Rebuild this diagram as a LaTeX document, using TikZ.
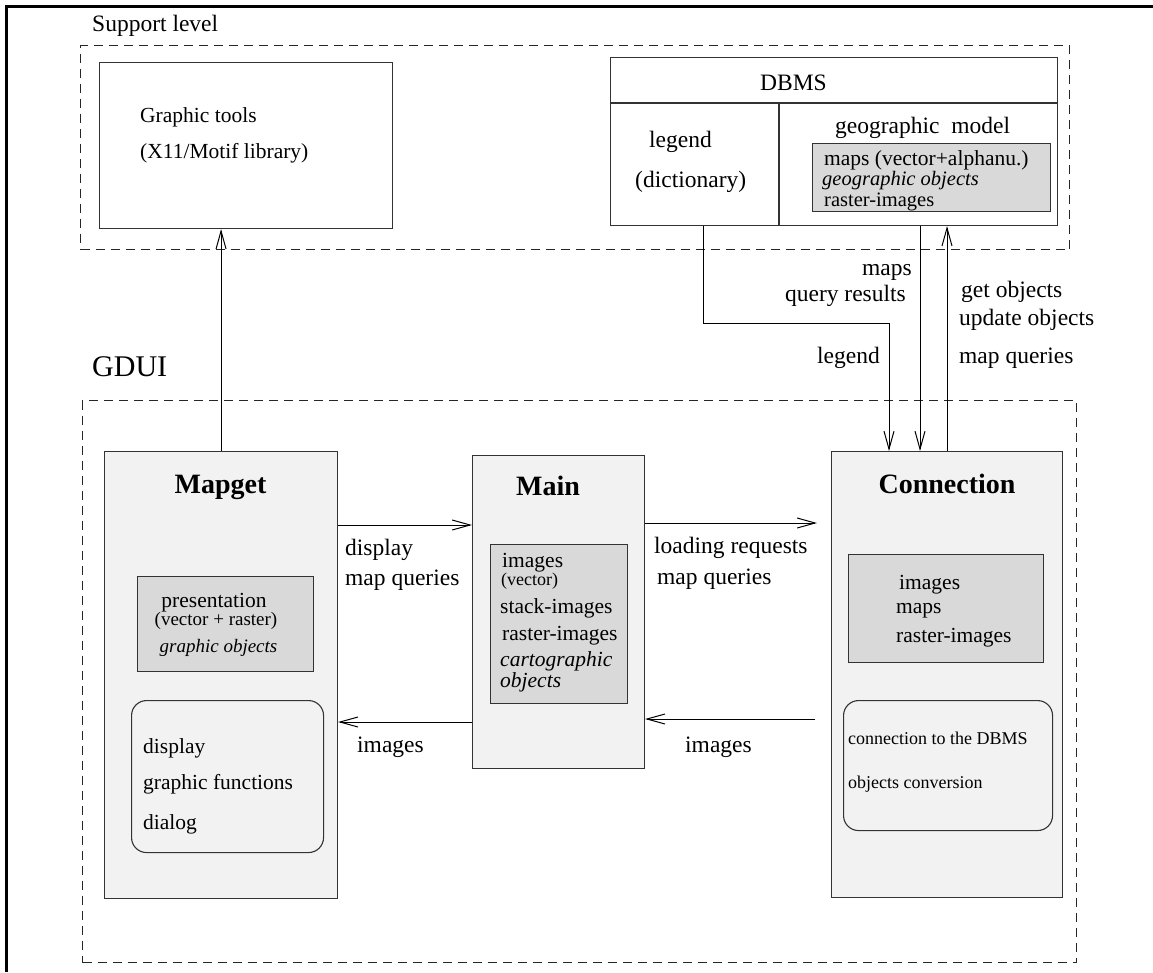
\documentclass[tikz,border=0pt]{standalone}
\usepackage{fontspec}
\setmainfont{Liberation Serif}
\usetikzlibrary{arrows.meta}
\begin{document}
\begin{tikzpicture}[x=1pt,y=-1pt,
  arr/.style={line width=1pt,-{Straight Barb[length=18pt,width=10pt,line width=1pt]}},
  box/.style={draw=black!80,line width=1.1pt,inner sep=0pt,anchor=north west},
  comp/.style={box,fill=black!5},
  inner/.style={box,fill=black!15},
  grp/.style={draw=black!85,line width=1pt,dash pattern=on 9pt off 6pt,inner sep=0pt,anchor=north west},
  lw/.style={inner sep=0pt,anchor=base west},
  lc/.style={inner sep=0pt,anchor=base},
  le/.style={inner sep=0pt,anchor=base east},
  fA/.style={font=\fontsize{23.5}{27}\selectfont},
  fB/.style={font=\fontsize{21.5}{25}\selectfont},
  fC/.style={font=\fontsize{19}{22}\selectfont},
  fD/.style={font=\fontsize{18}{21}\selectfont},
  fI/.style={font=\fontsize{21.5}{25}\selectfont\itshape},
  fJ/.style={font=\fontsize{19}{22}\selectfont\itshape},
  fT/.style={font=\fontsize{28}{32}\selectfont\bfseries},
  fG/.style={font=\fontsize{30}{34}\selectfont}]
\useasboundingbox (0,0) rectangle (1153,972);
% outer frame
\coordinate (fa) at (1153,6.5);
\coordinate (fb) at (6.5,6.5);
\coordinate (fc) at (6.5,972);
\draw[line width=3pt] (fa) -- (fb) -- (fc);
% groups
\node[grp,minimum width=989pt,minimum height=204pt] (support) at (80,45) {};
\node[grp,minimum width=994pt,minimum height=562pt] (gdui) at (82,400) {};
\node[lw,fA] (supportlbl) at (92,31) {Support level};
\node[lw,fG] (gduilbl) at (92,376) {GDUI};
% graphic tools
\node[box,minimum width=293pt,minimum height=166pt] (gtools) at (99,62) {};
\node[lw,fB] (gt1) at (140,122) {Graphic tools};
\node[lw,fB] (gt2) at (140,158) {(X11/Motif library)};
% DBMS
\node[box,minimum width=447pt,minimum height=168pt] (dbms) at (610,57) {};
\coordinate (dv) at (0,103);
\coordinate (vx) at (779,0);
\draw[draw=black!80,line width=1.1pt] (dbms.west |- dv) -- (dbms.east |- dv);
\draw[draw=black!80,line width=1.1pt] (vx |- dv) -- (vx |- dbms.south);
\node[lc,fA] (dbmslbl) at (793.5,90) {DBMS};
\node[lw,fA] (leg1) at (649,147) {legend};
\node[lw,fA] (leg2) at (635,187) {(dictionary)};
\node[lw,fA] (geo) at (835,133) {geographic\ \ model};
\node[inner,minimum width=238pt,minimum height=68pt] (geobox) at (812,143) {};
\node[lw,fB] (g1) at (824,165) {maps (vector+alphanu.)};
\node[lw,font=\fontsize{20.5}{24}\selectfont\itshape] (g2) at (822,185.5) {geographic objects};
\node[lw,font=\fontsize{20.5}{24}\selectfont] (g3) at (824,206) {raster-images};
% components
\node[comp,minimum width=233pt,minimum height=447pt] (mapget) at (104,451) {};
\node[comp,minimum width=172pt,minimum height=313pt] (main) at (472,455) {};
\node[comp,minimum width=231pt,minimum height=446pt] (conn) at (831,451) {};
% Mapget
\node[lc,fT] (mapgetlbl) at (220.5,493) {Mapget};
\node[inner,minimum width=176pt,minimum height=95pt] (pres) at (137,576) {};
\node[lc,fB] (p1) at (214,607) {presentation};
\node[lc,fC] (p2) at (216,625) {(vector + raster)};
\node[lc,fJ] (p3) at (218.5,652) {graphic objects};
\node[comp,rounded corners=15pt,minimum width=192pt,minimum height=152pt] (mfun) at (131,700) {};
\node[lw,fB] (m1) at (143,753) {display};
\node[lw,fB] (m2) at (143,789) {graphic functions};
\node[lw,fB] (m3) at (143,829) {dialog};
% Main
\node[lc,fT] (mainlbl) at (548,495) {Main};
\node[inner,minimum width=137pt,minimum height=159pt] (mainbox) at (490,544) {};
\node[lw,fB] (i1) at (502,567) {images};
\node[lw,fD] (i2) at (501,585) {(vector)};
\node[lw,fB] (i3) at (500,613) {stack-images};
\node[lw,fB] (i4) at (502,640) {raster-images};
\node[lw,fI] (i5) at (500,666) {cartographic};
\node[lw,fI] (i6) at (500,687) {objects};
% Connection
\node[lc,fT] (connlbl) at (947,493) {Connection};
\node[inner,minimum width=195pt,minimum height=108pt] (connbox) at (848,554) {};
\node[lw,fB] (c1) at (899,589) {images};
\node[lw,fB] (c2) at (896,613) {maps};
\node[lw,fB] (c3) at (896,642) {raster-images};
\node[comp,rounded corners=15pt,minimum width=209pt,minimum height=130pt] (cfun) at (843,700) {};
\node[lw,fD] (d1) at (848,744) {connection to the DBMS};
\node[lw,fD] (d2) at (848,788) {objects conversion};
% connectors
\draw[arr] (mapget.north) -- (mapget.north |- gtools.south);
\coordinate (y1) at (0,525);
\coordinate (y2) at (0,722);
\coordinate (y3) at (0,523);
\coordinate (y4) at (0,719);
\draw[arr] (mapget.east |- y1) -- (main.west |- y1);
\draw[arr] (main.west |- y2) -- (mapget.east |- y2);
\draw[arr,shorten >=14pt] (main.east |- y3) -- (conn.west |- y3);
\draw[arr,shorten <=16pt] (conn.west |- y4) -- (main.east |- y4);
\coordinate (xa) at (703,0);
\coordinate (xb) at (889,0);
\coordinate (xc) at (920,0);
\coordinate (xd) at (947,0);
\coordinate (ya) at (0,323);
\draw[arr] (dbms.south -| xa) -- (xa |- ya) -- (xb |- ya) -- (conn.north -| xb);
\draw[arr] (dbms.south -| xc) -- (conn.north -| xc);
\draw[arr] (conn.north -| xd) -- (dbms.south -| xd);
% connector labels
\node[lw,fA] (a1) at (345,555) {display};
\node[lw,fA] (a2) at (345,585) {map queries};
\node[lw,fA] (a3) at (357,752) {images};
\node[lw,fA] (b1) at (654,553) {loading requests};
\node[lw,fA] (b2) at (657,584) {map queries};
\node[lw,fA] (b3) at (685,752) {images};
\node[le,fA] (q1) at (912,275) {maps};
\node[le,fA] (q2) at (906,301) {query results};
\node[lw,fA] (q3) at (817,363) {legend};
\node[lw,fA] (r1) at (961,297) {get objects};
\node[lw,fA] (r2) at (959,325) {update objects};
\node[lw,fA] (r3) at (959,363) {map queries};
\end{tikzpicture}
\end{document}
